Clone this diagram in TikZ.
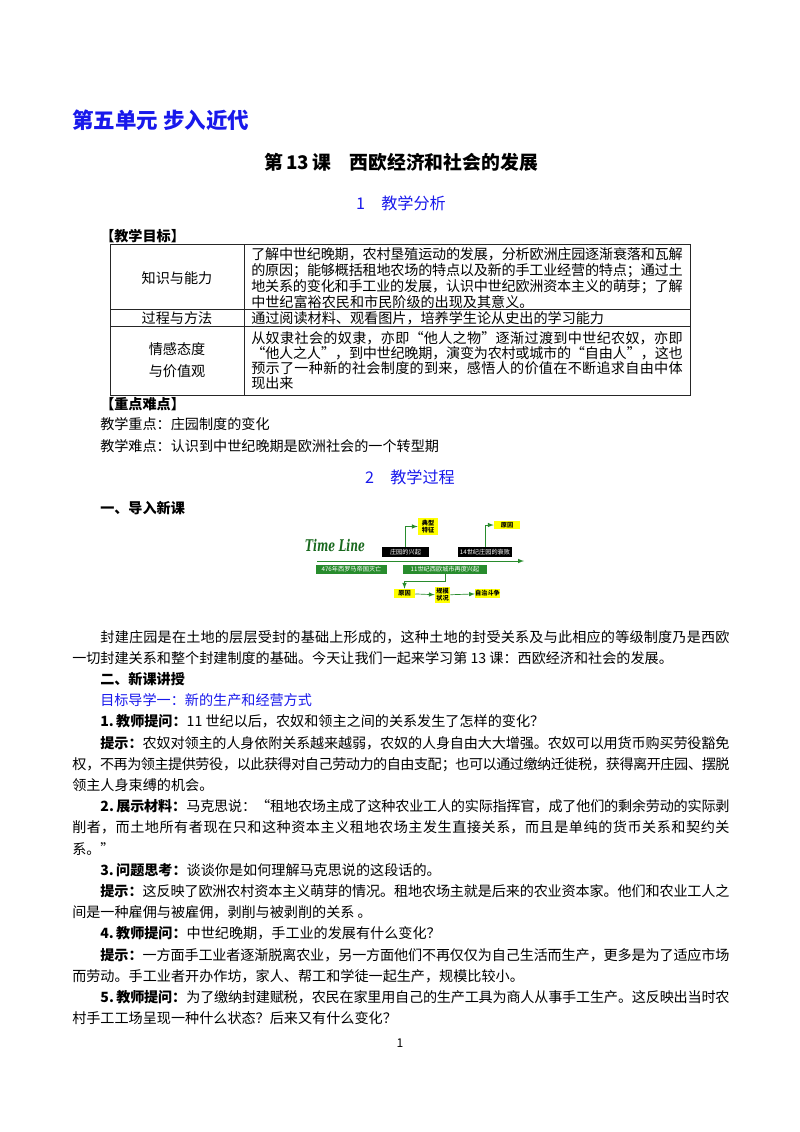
\documentclass[tikz,border=0pt]{standalone}
\usepackage{fontspec}
\setmainfont{Noto Sans CJK SC}
\newfontfamily\tlfont{DejaVu Serif}
\XeTeXlinebreaklocale "zh"
\XeTeXlinebreakskip=0pt plus 1pt minus 0.4pt
\definecolor{headblue}{RGB}{25,25,235}
\definecolor{tlgreen}{RGB}{40,140,45}
\definecolor{tldark}{RGB}{25,105,30}
\definecolor{tlyellow}{RGB}{255,255,0}

\begin{document}
\begin{tikzpicture}[x=0.744pt, y=-0.744pt,
    body/.style={anchor=base west, inner sep=0pt, font=\fontsize{10.5pt}{16pt}\selectfont},
    fullline/.style={body, text width=489pt, align=justify,
      execute at begin node={\parfillskip=0pt\tolerance=9999\relax}},
    cellline/.style={fullline, text width=321pt},
    label/.style={inner sep=0pt, font=\fontsize{10.5pt}{16pt}\selectfont},
    tableline/.style={line width=0.6pt, black!85},
    tlline/.style={draw=tlgreen, line width=0.5pt, ->, >=latex},
    tlblack/.style={fill=black, text=white, inner sep=0pt, minimum height=7.4pt,
      font=\fontsize{4.6pt}{5pt}\selectfont},
    tlgreenbox/.style={fill=tlgreen, text=white, inner sep=0pt, minimum height=6.7pt,
      font=\fontsize{4.6pt}{5pt}\selectfont},
    tlyellow/.style={fill=tlyellow, text=black, inner sep=0pt, align=center,
      font=\bfseries\fontsize{4.6pt}{5pt}\selectfont}]

  % page
  \useasboundingbox (0,0) rectangle (800,1132);

  % headings
  \node[anchor=base west, inner sep=0pt, text=headblue,
    font=\bfseries\fontsize{16pt}{16pt}\selectfont] (unit) at (72,128) {第五单元 步入近代};
  \node[anchor=base, inner sep=0pt,
    font=\bfseries\fontsize{14pt}{14pt}\selectfont] (lesson) at (401,169) {第\,13\,课　西欧经济和社会的发展};
  \node[anchor=base, inner sep=0pt, text=headblue,
    font=\fontsize{12pt}{12pt}\selectfont] (part1) at (401,209) {1　教学分析};
  \node[body, font=\bfseries\fontsize{10.5pt}{16pt}\selectfont] (aims) at (100,241) {【教学目标】};

  % table of aims
  \draw[tableline] (110,244) rectangle (690,395);
  \draw[tableline] (110,309) -- (690,309);
  \draw[tableline] (110,326) -- (690,326);
  \draw[tableline] (244,244) -- (244,395);
  \node[label] (knowl) at (177,278) {知识与能力};
  \node[label] (method) at (177,318) {过程与方法};
  \node[label, align=center] (values) at (177,360) {情感态度\\与价值观};
  \node[cellline] (r1a) at (251,259) {了解中世纪晚期，农村垦殖运动的发展，分析欧洲庄园逐渐衰落和瓦解};
  \node[cellline] (r1b) at (251,275) {的原因；能够概括租地农场的特点以及新的手工业经营的特点；通过土};
  \node[cellline] (r1c) at (251,291) {地关系的变化和手工业的发展，认识中世纪欧洲资本主义的萌芽；了解};
  \node[body] (r1d) at (251,307) {中世纪富裕农民和市民阶级的出现及其意义。};
  \node[body] (r2a) at (251,323) {通过阅读材料、观看图片，培养学生论从史出的学习能力};
  \node[cellline] (r3a) at (251,343) {从奴隶社会的奴隶，亦即“他人之物”逐渐过渡到中世纪农奴，亦即};
  \node[cellline] (r3b) at (251,358) {“他人之人”，到中世纪晚期，演变为农村或城市的“自由人”，这也};
  \node[cellline] (r3c) at (251,373) {预示了一种新的社会制度的到来，感悟人的价值在不断追求自由中体};
  \node[body] (r3d) at (251,388) {现出来};

  % key points
  \node[body, font=\bfseries\fontsize{10.5pt}{16pt}\selectfont] (keys) at (100,409) {【重点难点】};
  \node[body] (key1) at (100,429) {教学重点：庄园制度的变化};
  \node[body] (key2) at (100,451) {教学难点：认识到中世纪晚期是欧洲社会的一个转型期};
  \node[anchor=base, inner sep=0pt, text=headblue,
    font=\fontsize{12pt}{12pt}\selectfont] (part2) at (410,483) {2　教学过程};
  \node[body, font=\bfseries\fontsize{10.5pt}{16pt}\selectfont] (intro) at (100,513) {一、导入新课};

  % time line picture
  \node[text=tldark, inner sep=0pt,
    font=\tlfont\bfseries\itshape\fontsize{12pt}{12pt}\selectfont] (tltitle) at (335,545) {\scalebox{0.66}[1]{Time Line}};
  \coordinate (axisstart) at (317,561);
  \coordinate (axisend) at (524,561);
  \draw[tlline] (axisstart) -- (axisend);
  \node[tlblack, minimum width=35pt] (rise) at (405.5,552) {庄园的兴起};
  \node[tlblack, minimum width=40pt] (decline) at (485,552) {14世纪庄园的衰败};
  \node[tlyellow, minimum width=14.9pt, minimum height=12.6pt] (feature) at (428,526.5) {典型\\特征};
  \node[tlyellow, minimum width=19.3pt, minimum height=6pt] (causetop) at (507,525) {原因};
  \node[tlgreenbox, minimum width=53pt] (fall) at (351.5,569.5) {476年西罗马帝国灭亡};
  \node[tlgreenbox, minimum width=62.5pt] (towns) at (445,569.5) {11世纪西欧城市再度兴起};
  \node[tlyellow, minimum width=15.6pt, minimum height=6.7pt] (cause) at (404.5,593.5) {原因};
  \node[tlyellow, minimum width=11.2pt, minimum height=11.9pt] (size) at (442.5,595) {规模\\状况};
  \node[tlyellow, minimum width=15.6pt, minimum height=6.7pt] (selfrule) at (487.5,593.5) {自治斗争};
  \draw[tlline] (rise.north) |- (feature.west);
  \draw[tlline] (decline.north) |- (causetop.west);
  \draw[tlline] (towns.south) -- ++(0,7) -| (cause.north);
  \draw[tlline] (cause) -- (size);
  \draw[tlline] (size) -- (selfrule);

  % lesson text
  \node[fullline] (l1) at (72,642) {\hspace*{2em}封建庄园是在土地的层层受封的基础上形成的，这种土地的封受关系及与此相应的等级制度乃是西欧};
  \node[body] (l2) at (72,663.2) {一切封建关系和整个封建制度的基础。今天让我们一起来学习第 13 课：西欧经济和社会的发展。};
  \node[body, font=\bfseries\fontsize{10.5pt}{16pt}\selectfont] (l3) at (100,684.4) {二、新课讲授};
  \node[body, text=headblue] (l4) at (100,705.6) {目标导学一：新的生产和经营方式};
  \node[body] (l5) at (100,726.8) {{\bfseries 1.\,教师提问：}11 世纪以后，农奴和领主之间的关系发生了怎样的变化？};
  \node[fullline] (l6) at (72,748) {\hspace*{2em}{\bfseries 提示：}农奴对领主的人身依附关系越来越弱，农奴的人身自由大大增强。农奴可以用货币购买劳役豁免};
  \node[fullline] (l7) at (72,769.2) {权，不再为领主提供劳役，以此获得对自己劳动力的自由支配；也可以通过缴纳迁徙税，获得离开庄园、摆脱};
  \node[body] (l8) at (72,790.4) {领主人身束缚的机会。};
  \node[fullline] (l9) at (72,811.6) {\hspace*{2em}{\bfseries 2.\,展示材料：}马克思说：“租地农场主成了这种农业工人的实际指挥官，成了他们的剩余劳动的实际剥};
  \node[fullline] (l10) at (72,832.8) {削者，而土地所有者现在只和这种资本主义租地农场主发生直接关系，而且是单纯的货币关系和契约关};
  \node[body] (l11) at (72,854) {系。”};
  \node[body] (l12) at (100,875.2) {{\bfseries 3.\,问题思考：}谈谈你是如何理解马克思说的这段话的。};
  \node[fullline] (l13) at (72,896.4) {\hspace*{2em}{\bfseries 提示：}这反映了欧洲农村资本主义萌芽的情况。租地农场主就是后来的农业资本家。他们和农业工人之};
  \node[body] (l14) at (72,917.6) {间是一种雇佣与被雇佣，剥削与被剥削的关系 。};
  \node[body] (l15) at (100,938.8) {{\bfseries 4.\,教师提问：}中世纪晚期，手工业的发展有什么变化？};
  \node[fullline] (l16) at (72,960) {\hspace*{2em}{\bfseries 提示：}一方面手工业者逐渐脱离农业，另一方面他们不再仅仅为自己生活而生产，更多是为了适应市场};
  \node[body] (l17) at (72,981.2) {而劳动。手工业者开办作坊，家人、帮工和学徒一起生产，规模比较小。};
  \node[fullline] (l18) at (72,1002.4) {\hspace*{2em}{\bfseries 5.\,教师提问：}为了缴纳封建赋税，农民在家里用自己的生产工具为商人从事手工生产。这反映出当时农};
  \node[body] (l19) at (72,1023.6) {村手工工场呈现一种什么状态？后来又有什么变化？};

  % page number
  \node[anchor=base, inner sep=0pt, font=\fontsize{9pt}{9pt}\selectfont] (pageno) at (400,1047) {1};
\end{tikzpicture}
\end{document}
